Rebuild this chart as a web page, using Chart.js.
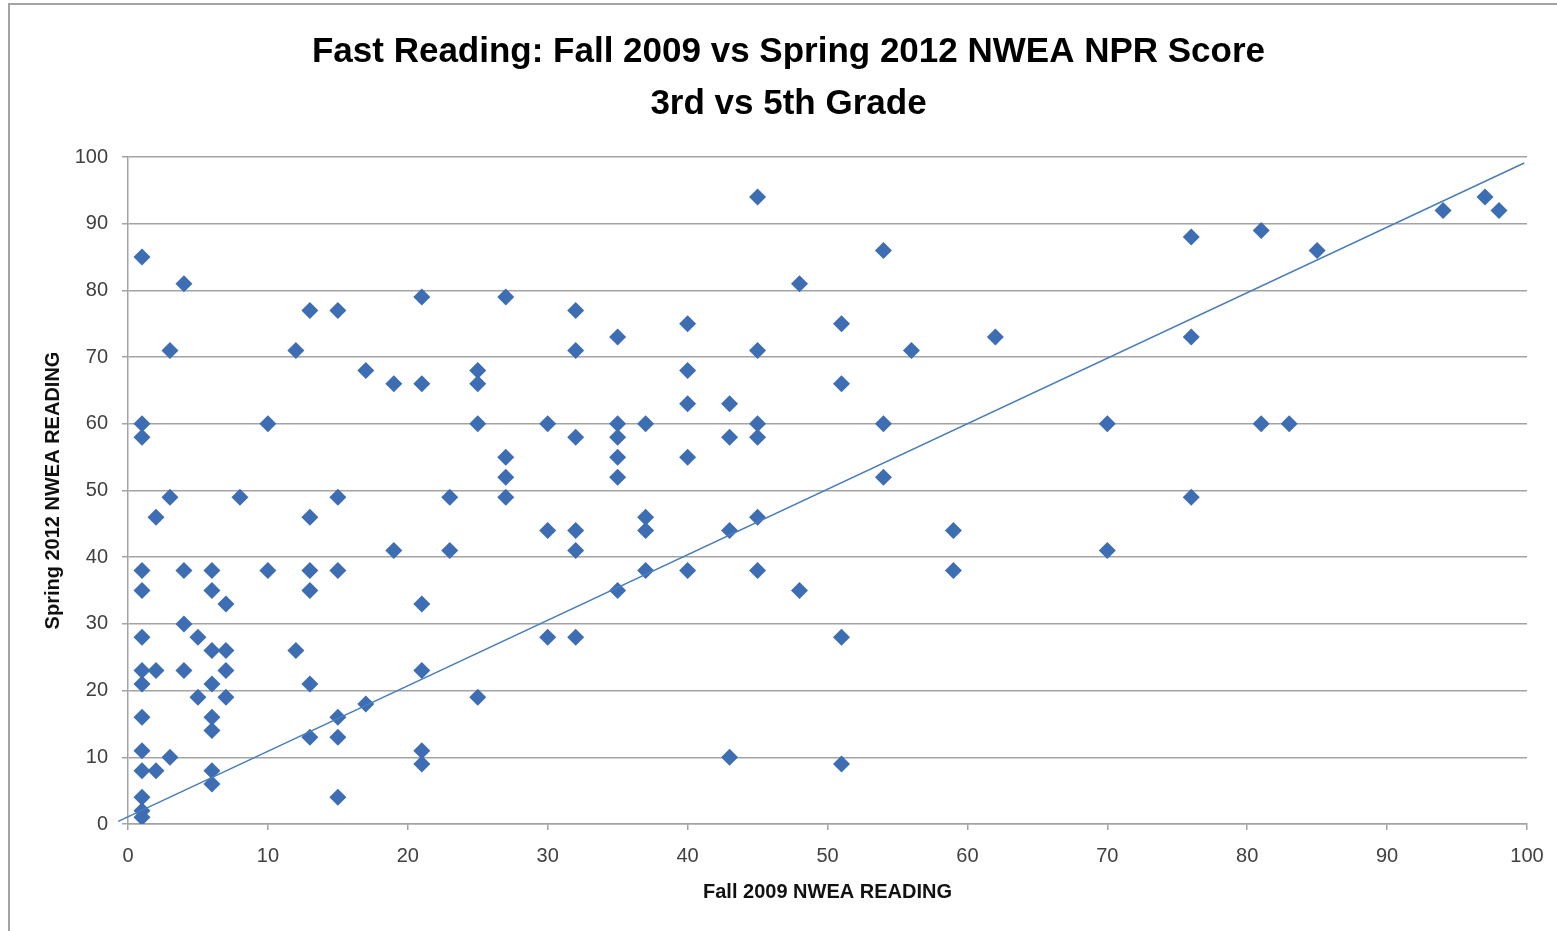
<!DOCTYPE html>
<html>
<head>
<meta charset="utf-8">
<script src="https://cdn.jsdelivr.net/npm/chart.js@4"></script>
<style>
  html, body { margin: 0; padding: 0; background: #fff; overflow: hidden; }
  .frame {
    position: absolute; left: 8px; top: 3px; width: 1700px; height: 1100px;
    border-top: 2px solid #a3a3a3; border-left: 2px solid #a3a3a3;
  }
  canvas { position: absolute; left: 0; top: 0; }
</style>
</head>
<body>
<div class="frame"></div>
<canvas id="chart" width="1577" height="931"></canvas>
<script>
const TITLE = ["Fast Reading: Fall 2009 vs Spring 2012 NWEA NPR Score", "3rd vs 5th Grade"];
const X_TITLE = "Fall 2009 NWEA READING";
const Y_TITLE = "Spring 2012 NWEA READING";

// one entry per student, fall2009[i] goes with spring2012[i]
const fall2009 = [
  1, 1, 1, 1, 1, 1, 1, 1, 1, 1, 1, 1, 1, 1,
  2, 2, 2,
  3, 3, 3,
  4, 4, 4, 4,
  5, 5,
  6, 6, 6, 6, 6, 6, 6, 6,
  7, 7, 7, 7,
  8,
  10, 10,
  12, 12,
  13, 13, 13, 13, 13, 13,
  15, 15, 15, 15, 15, 15,
  17, 17,
  19, 19,
  21, 21, 21, 21, 21, 21,
  23, 23,
  25, 25, 25, 25,
  27, 27, 27, 27,
  30, 30, 30,
  32, 32, 32, 32, 32, 32,
  35, 35, 35, 35, 35, 35,
  37, 37, 37, 37,
  40, 40, 40, 40, 40,
  43, 43, 43, 43,
  45, 45, 45, 45, 45, 45,
  48, 48,
  51, 51, 51, 51,
  54, 54, 54,
  56,
  59, 59,
  62,
  70, 70,
  76, 76, 76,
  81, 81,
  83,
  85,
  94,
  97,
  98
];
const spring2012 = [
  85, 60, 58, 38, 35, 28, 23, 21, 16, 11, 8, 4, 2, 1,
  46, 23, 8,
  71, 49, 10,
  81, 38, 30, 23,
  28, 19,
  38, 35, 26, 21, 16, 14, 8, 6,
  33, 26, 23, 19,
  49,
  60, 38,
  71, 26,
  77, 46, 38, 35, 21, 13,
  77, 49, 38, 16, 13, 4,
  68, 18,
  66, 41,
  79, 66, 33, 23, 11, 9,
  49, 41,
  68, 66, 60, 19,
  79, 55, 52, 49,
  60, 44, 28,
  77, 71, 58, 44, 41, 28,
  73, 60, 58, 55, 52, 35,
  60, 46, 44, 38,
  75, 68, 63, 55, 38,
  63, 58, 44, 10,
  94, 71, 60, 58, 46, 38,
  81, 35,
  75, 66, 28, 9,
  86, 60, 52,
  71,
  44, 38,
  73,
  60, 41,
  88, 73, 49,
  89, 60,
  60,
  86,
  92,
  94,
  92
];

// the straight line drawn across the plot (its two ends)
const lineX = [-0.7, 99.8];
const lineY = [0.4, 99.1];

const FONT = "'Liberation Sans', Arial, sans-serif";
const GRID = "#a3a3a3";

let ctx = document.getElementById("chart").getContext("2d");

new Chart(ctx, {
  type: "scatter",
  data: {
    datasets: [
      {
        label: "Students",
        data: fall2009.map((x, i) => ({ x: x, y: spring2012[i] })),
        pointStyle: "rectRot",
        pointRadius: 8.5,
        backgroundColor: "#3d6db2",
        borderColor: "#3d6db2",
        borderWidth: 0,
        order: 1
      }, {
        label: "Line",
        data: lineX.map((x, i) => ({ x: x, y: lineY[i] })),
        showLine: true,
        borderColor: "#4a7ebb",
        borderWidth: 1.5,
        pointRadius: 0,
        clip: false,
        order: 0
      }
    ]
  },
  options: {
    responsive: false,
    animation: false,
    // same padding both sides so the title sits in the middle of the frame
    layout: { padding: { left: 50, right: 50, top: 0, bottom: 0 } },
    plugins: {
      legend: { display: false },
      tooltip: { enabled: false },
      title: {
        display: true,
        text: TITLE,
        color: "#000",
        font: { family: FONT, size: 35, weight: "bold", lineHeight: 1.486 },
        padding: { top: 26, bottom: 27 }
      }
    },
    scales: {
      x: {
        type: "linear",
        min: 0,
        max: 100,
        ticks: {
          stepSize: 10,
          color: "#404040",
          font: { family: FONT, size: 20 },
          padding: 14,
          maxRotation: 0
        },
        grid: { drawOnChartArea: false, tickLength: 6, color: GRID, lineWidth: 1.5 },
        border: { color: GRID, width: 1.5 },
        title: {
          display: true,
          text: X_TITLE,
          color: "#111",
          font: { family: FONT, size: 20, weight: "bold" },
          padding: { top: 0, bottom: 27 }
        },
        afterFit: scale => { scale.height = 107; }
      },
      y: {
        type: "linear",
        min: 0,
        max: 100,
        ticks: {
          stepSize: 10,
          color: "#404040",
          font: { family: FONT, size: 20 },
          padding: 14
        },
        grid: { tickLength: 6, color: GRID, lineWidth: 1.5 },
        border: { color: GRID, width: 1.5 },
        title: {
          display: true,
          text: Y_TITLE,
          color: "#111",
          font: { family: FONT, size: 20, weight: "bold" },
          padding: { top: -9, bottom: 0 }
        },
        afterFit: scale => { scale.width = 78; }
      }
    }
  }
});
</script>
</body>
</html>
